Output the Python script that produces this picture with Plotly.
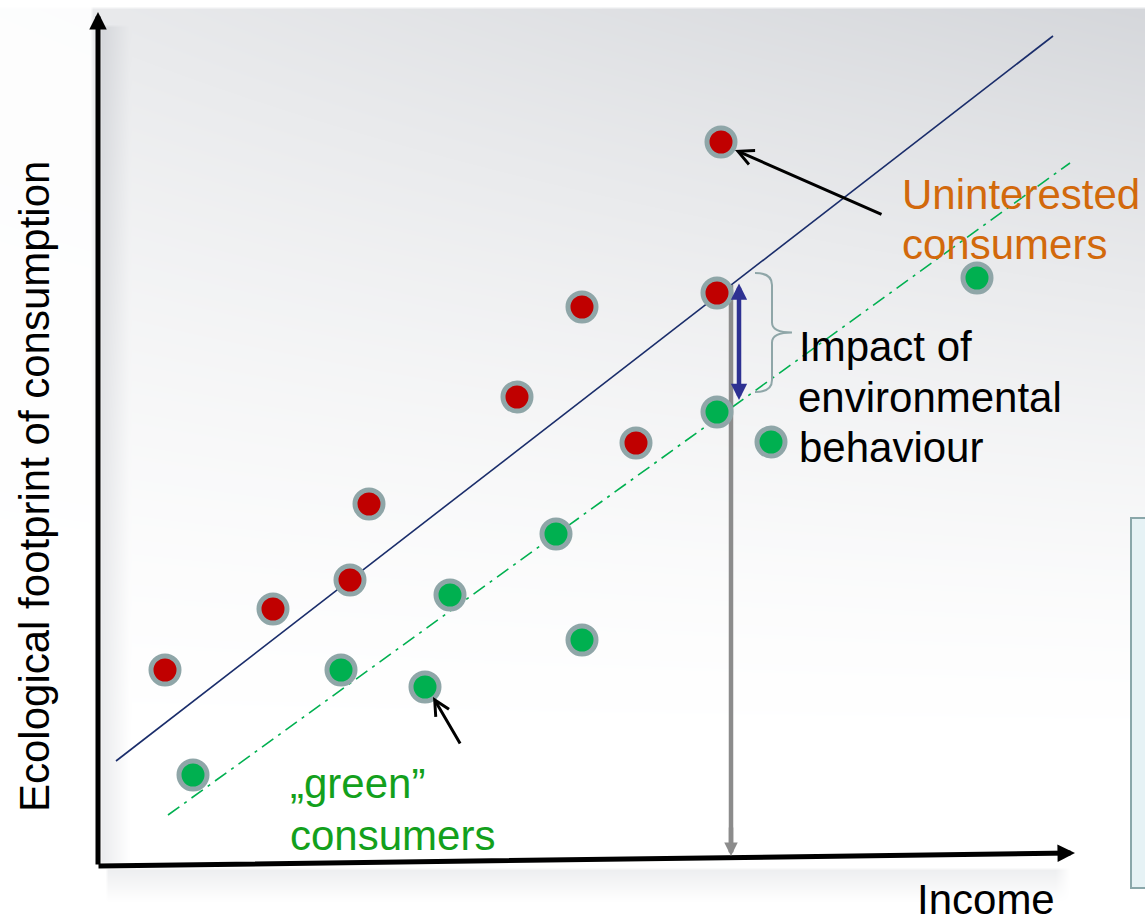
import numpy as np
import plotly.graph_objects as go

W, H = 1145, 924

# ---------------- data (chart units) ----------------
red_income = [165, 273, 350, 369, 517, 582, 636, 717, 721]
red_footprint = [254, 315, 344, 420, 527, 617, 481, 631, 782]
green_income = [193, 341, 425, 450, 556, 582, 717, 771, 977]
green_footprint = [149, 254, 237, 329, 390, 284, 512, 482, 646]

uninterested_trend_x = [116, 1053]
uninterested_trend_y = [163, 888]
green_trend_x = [168, 1070]
green_trend_y = [109, 761]

axis_origin = [97, 58]
x_axis_end = [1075, 71]
y_axis_end = [98, 912]

pair_red, pair_green = 7, 6  # highlighted pair of consumers

y_title = "Ecological footprint of consumption"
x_title = "Income"
lbl_uninterested = ["Uninterested", "consumers"]
lbl_impact = ["Impact of", "environmental", "behaviour"]
lbl_green = ["\u201egreen\u201d", "consumers"]

FONT = "Liberation Sans, Arial, sans-serif"
RING = "#8fa6a8"

fig = go.Figure()

# ---------------- soft slide background (decoration) ----------------
bx_grid = np.concatenate([np.arange(0, 200, 3), np.arange(200, W + 15, 15)]).astype(float)
by_px = np.concatenate([np.arange(0, 30, 3), np.arange(30, 840, 12), np.arange(840, H + 3, 3)]).astype(float)
PX, PY = np.meshgrid(bx_grid, by_px)
dark = np.clip(1 - PY / 750, 0, 1) ** 1.4 * (0.5 + 0.5 * PX / W)
dark = np.where(PX < 92, dark * 0.12, dark)
dark = np.where(PY < 8, 0.0, dark)
sh_y = np.clip(1 - (PX - 100) / 30, 0, 1) * ((PY > 25) & (PY < 862)) * (PX >= 100)
sh_x = np.clip(1 - (PY - 870) / 32, 0, 1) * (PY >= 868) * ((PX > 105) & (PX < 1060))
dark = np.clip(dark + 0.5 * sh_y + 0.4 * sh_x, 0, 1)
fig.add_trace(go.Heatmap(x=bx_grid, y=H - by_px, z=dark, zmin=0, zmax=1, zsmooth="best",
                         colorscale=[[0, "rgb(255,255,255)"], [1, "rgb(212,214,218)"]],
                         showscale=False, hoverinfo="skip"))

# trend lines
fig.add_trace(go.Scatter(x=uninterested_trend_x, y=uninterested_trend_y, mode="lines",
                         line=dict(color="#1a2d6b", width=1.6), hoverinfo="skip"))
fig.add_trace(go.Scatter(x=green_trend_x, y=green_trend_y, mode="lines",
                         line=dict(color="#00b050", width=1.6, dash="14px,6px,3px,6px"),
                         hoverinfo="skip"))

# gray vertical line from the highlighted red consumer down to the income axis
gx = red_income[pair_red] + 14
fig.add_trace(go.Scatter(x=[gx, gx], y=[red_footprint[pair_red] + 8, axis_origin[1] + 14],
                         mode="lines", line=dict(color="#8c8c8c", width=4.5), hoverinfo="skip"))

# consumers
fig.add_trace(go.Scatter(x=red_income, y=red_footprint, mode="markers",
                         marker=dict(size=28, color="#c00000", line=dict(color=RING, width=5)),
                         name="Uninterested consumers"))
fig.add_trace(go.Scatter(x=green_income, y=green_footprint, mode="markers",
                         marker=dict(size=28, color="#00b050", line=dict(color=RING, width=5)),
                         name="green consumers"))

shapes = []
# brace next to the impact arrow
bt = red_footprint[pair_red] + 20
bb = green_footprint[pair_green] + 20
bm = (bt + bb) / 2
bx0, bx1, bx2 = 755, 772, 792
brace = (f"M {bx0},{bt} Q {bx1},{bt} {bx1},{bt-12} L {bx1},{bm+10} "
         f"Q {bx1},{bm} {bx2},{bm} Q {bx1},{bm} {bx1},{bm-10} "
         f"L {bx1},{bb+12} Q {bx1},{bb} {bx0},{bb}")
shapes.append(dict(type="path", xref="x", yref="y", path=brace,
                   line=dict(color="#8fa6a8", width=2), layer="above"))

# right-hand box (partly off the slide)
shapes.append(dict(type="rect", xref="x", yref="y", x0=1131, x1=1160, y0=36, y1=406,
                   fillcolor="#e6f2f5", line=dict(color="#8aa7aa", width=2), layer="above"))

# ---------------- annotations ----------------
ann = []
# axes
ann.append(dict(x=y_axis_end[0], y=y_axis_end[1], ax=axis_origin[0] + 1, ay=axis_origin[1],
                xref="x", yref="y", axref="x", ayref="y", showarrow=True, arrowhead=2,
                arrowsize=0.7, arrowwidth=5, arrowcolor="black", text=""))
ann.append(dict(x=x_axis_end[0], y=x_axis_end[1], ax=axis_origin[0], ay=axis_origin[1],
                xref="x", yref="y", axref="x", ayref="y", showarrow=True, arrowhead=2,
                arrowsize=0.7, arrowwidth=5, arrowcolor="black", text=""))
# gray arrow head at the income axis
ann.append(dict(x=gx, y=axis_origin[1] + 10, ax=gx, ay=axis_origin[1] + 40,
                xref="x", yref="y", axref="x", ayref="y", showarrow=True, arrowhead=2,
                arrowsize=0.6, arrowwidth=4.5, arrowcolor="#8c8c8c", text=""))
# blue double arrow (impact)
ann.append(dict(x=gx + 8, y=green_footprint[pair_green] + 12, ax=gx + 8,
                ay=red_footprint[pair_red] + 11,
                xref="x", yref="y", axref="x", ayref="y", showarrow=True, arrowhead=2,
                startarrowhead=2, arrowside="end+start", arrowsize=0.72, startarrowsize=0.72,
                arrowwidth=4.5, arrowcolor="#2e3192", text=""))
# pointer arrows
ann.append(dict(x=red_income[8] + 14, y=red_footprint[8] - 8, ax=883, ay=709,
                xref="x", yref="y", axref="x", ayref="y", showarrow=True, arrowhead=5,
                arrowsize=1, arrowwidth=3, arrowcolor="black", text=""))
ann.append(dict(x=green_income[2] + 8, y=green_footprint[2] - 10, ax=461, ay=179,
                xref="x", yref="y", axref="x", ayref="y", showarrow=True, arrowhead=5,
                arrowsize=1, arrowwidth=3, arrowcolor="black", text=""))


def txt(s, x, y, color, xanchor="left", angle=0):
    ann.append(dict(text=s, x=x, y=y, xref="x", yref="y", showarrow=False,
                    xanchor=xanchor, yanchor="middle", textangle=angle,
                    font=dict(family=FONT, size=42, color=color)))


ORANGE = "#d2690c"
GREEN_T = "#13a01c"
txt(lbl_uninterested[0], 900, 924 - 194, ORANGE)
txt(lbl_uninterested[1], 900, 924 - 244, ORANGE)
txt(lbl_impact[0], 797, 924 - 346, "black")
txt(lbl_impact[1], 796, 924 - 397, "black")
txt(lbl_impact[2], 797, 924 - 447, "black")
txt(lbl_green[0], 288, 924 - 783, GREEN_T)
txt(lbl_green[1], 288, 924 - 835, GREEN_T)
txt(x_title, 986, 924 - 899, "black", xanchor="center")
ann.append(dict(text=y_title, x=34, y=924 - 487, xref="x", yref="y", showarrow=False,
                xanchor="center", yanchor="middle", textangle=-90,
                font=dict(family=FONT, size=42, color="black")))

fig.update_layout(
    width=W, height=H, margin=dict(l=0, r=0, t=0, b=0),
    paper_bgcolor="white", plot_bgcolor="white", showlegend=False,
    xaxis=dict(range=[0, W], visible=False, fixedrange=True),
    yaxis=dict(range=[0, H], visible=False, fixedrange=True),
    shapes=shapes, annotations=ann,
)

fig.write_html("out.html", config={"displayModeBar": False})
